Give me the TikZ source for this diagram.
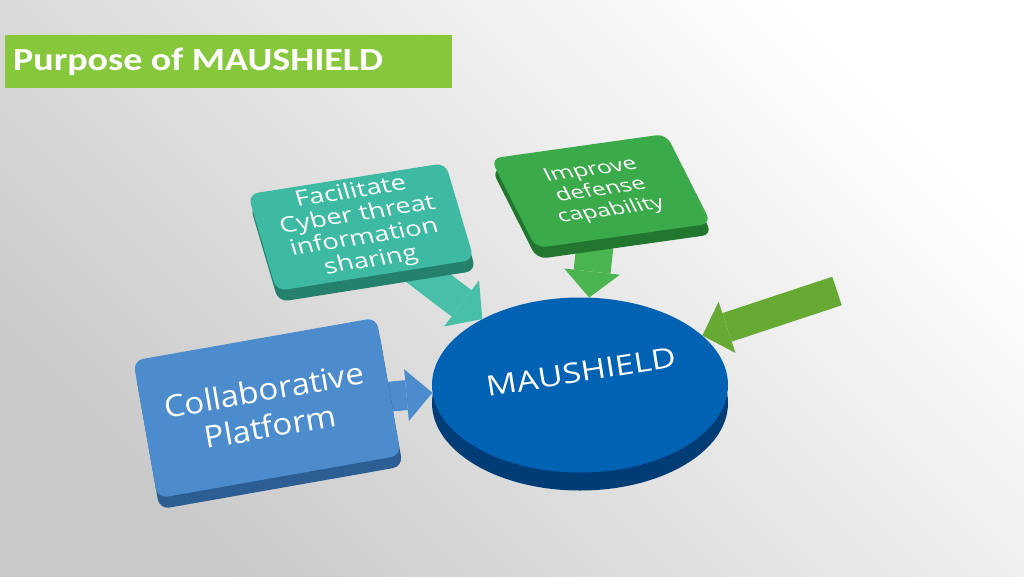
\documentclass[tikz,border=0pt]{standalone}
\usepackage{fontspec}
\setmainfont{Open Sans}
\newfontfamily\titlefont{Carlito}
\usetikzlibrary{shapes.geometric,shadows,arrows.meta}

\definecolor{titlegreen}{RGB}{134,199,59}
\definecolor{tealface}{RGB}{62,186,163}
\definecolor{tealside}{RGB}{38,128,110}
\definecolor{greenface}{RGB}{58,170,74}
\definecolor{greenside}{RGB}{34,118,48}
\definecolor{blueface}{RGB}{76,140,204}
\definecolor{blueside}{RGB}{44,94,148}
\definecolor{hubface}{RGB}{0,98,178}
\definecolor{hubside}{RGB}{0,60,118}
\definecolor{tealarrow}{RGB}{72,192,168}
\definecolor{greenarrow}{RGB}{74,180,78}
\definecolor{bluearrow}{RGB}{76,140,204}
\definecolor{limearrow}{RGB}{102,170,52}

\pgfdeclarelayer{back}
\pgfsetlayers{back,main}

\begin{document}
\begin{tikzpicture}[x=1pt, y=-1pt,
	box/.style={rounded corners=10pt, text=white, align=center, inner sep=0pt},
	tip/.style={-{Triangle[width=#1, length=26pt, line width=0pt]}}]
	
	\useasboundingbox (0,0) rectangle (1024,576);
	
	% Title
	\node [fill=titlegreen,
	anchor=north west,
	minimum width=447pt,
	minimum height=62pt,
	yscale=0.85,
	text width=431pt,
	inner xsep=8pt,
	align=left,
	text=white,
	font=\titlefont\bfseries\fontsize{38}{38}\selectfont] (title) at (5,35) {\spaceskip=8.5pt\relax Purpose of MAUSHIELD};
	
	% Boxes
	\node [box,
	fill=tealface,
	drop shadow={shadow xshift=2pt, shadow yshift=-11pt, opacity=1, fill=tealside},
	minimum width=200pt,
	minimum height=125pt,
	rotate=9, xslant=-0.13, yscale=0.8,
	font=\fontsize{27}{29.5}\selectfont] (share) at (361,227) {Facilitate\\Cyber threat\\information\\sharing};
	
	\node [box,
	fill=greenface,
	drop shadow={shadow xshift=1pt, shadow yshift=-11pt, opacity=1, fill=greenside},
	minimum width=177pt,
	minimum height=125pt,
	rotate=8, xslant=-0.34, yscale=0.76,
	font=\fontsize{24}{28}\selectfont] (defense) at (601,191) {Improve\\defense\\capability};
	
	\node [box,
	fill=blueface,
	drop shadow={shadow xshift=2pt, shadow yshift=-11pt, opacity=1, fill=blueside},
	minimum width=247pt,
	minimum height=152pt,
	rotate=10, yscale=0.92,
	font=\fontsize{33}{40}\selectfont] (platform) at (267,408) {Collaborative\\Platform};
	
	% Hub
	\node [ellipse,
	fill=hubface,
	drop shadow={shadow xshift=0pt, shadow yshift=-18pt, opacity=1, fill=hubside},
	minimum width=296pt,
	minimum height=175pt,
	inner sep=0pt] (hub) at (580,385) {};
	
	\node [text=white, rotate=9, yscale=0.82,
	font=\fontsize{34}{34}\selectfont] (hubtext) at (581,372) {MAUSHIELD};
	
	% Background and arrows
	\begin{pgfonlayer}{back}
		\shade [bottom color=black!21, top color=white, shading angle=-45] (0,0) rectangle (1024,576);
		
		\coordinate (limetail) at (837,291);
		
		\draw [line width=33pt, tealarrow, tip=58pt] (share.center) -- (hub.146);
		\draw [line width=37pt, greenarrow, tip=56pt] (defense.center) -- (hub.84);
		\draw [line width=30pt, bluearrow, tip=52pt] (platform.center) -- (hub.183);
		\draw [line width=30pt, limearrow, tip=54pt] (limetail) -- (hub.22);
	\end{pgfonlayer}
	
\end{tikzpicture}
\end{document}
